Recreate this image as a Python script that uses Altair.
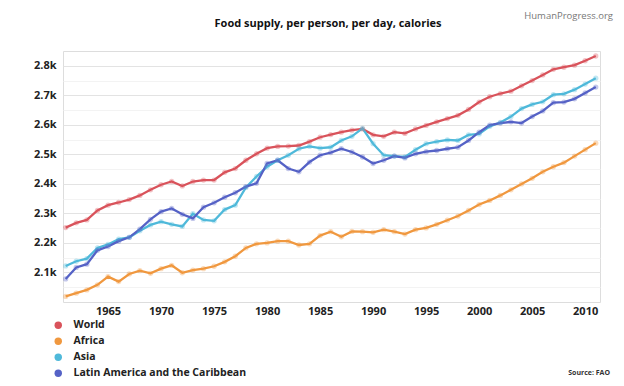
import altair as alt
import pandas as pd

years = list(range(1961, 2012))

world = [2252, 2268, 2278, 2310, 2328, 2337, 2347, 2361, 2380, 2397,
         2408, 2393, 2408, 2413, 2413, 2439, 2452, 2480, 2502, 2521,
         2527, 2528, 2530, 2543, 2558, 2567, 2575, 2582, 2586, 2566,
         2561, 2575, 2571, 2586, 2598, 2610, 2621, 2632, 2652, 2677,
         2695, 2706, 2714, 2732, 2750, 2769, 2788, 2795, 2802, 2817, 2833]

africa = [2019, 2030, 2041, 2058, 2086, 2069, 2095, 2106, 2097, 2113,
          2124, 2099, 2108, 2113, 2121, 2136, 2155, 2183, 2197, 2200,
          2206, 2206, 2193, 2197, 2225, 2238, 2221, 2239, 2238, 2236,
          2245, 2238, 2230, 2245, 2251, 2263, 2277, 2291, 2310, 2330,
          2344, 2361, 2380, 2400, 2419, 2441, 2458, 2472, 2494, 2516, 2538]

asia = [2122, 2138, 2147, 2183, 2195, 2213, 2219, 2241, 2261, 2272,
        2263, 2256, 2299, 2278, 2275, 2313, 2328, 2388, 2425, 2458,
        2480, 2497, 2519, 2527, 2521, 2524, 2547, 2561, 2588, 2536,
        2497, 2494, 2491, 2516, 2536, 2543, 2549, 2547, 2566, 2569,
        2595, 2608, 2628, 2655, 2669, 2678, 2702, 2705, 2719, 2738, 2758]

latam = [2078, 2117, 2128, 2175, 2188, 2206, 2219, 2247, 2280, 2306,
         2317, 2297, 2283, 2321, 2336, 2355, 2370, 2391, 2402, 2469,
         2480, 2452, 2441, 2474, 2497, 2506, 2519, 2508, 2491, 2469,
         2480, 2494, 2488, 2502, 2509, 2513, 2519, 2524, 2547, 2575,
         2599, 2606, 2610, 2606, 2628, 2647, 2675, 2677, 2688, 2708, 2728]

series_names = ["World", "Africa", "Asia", "Latin America and the Caribbean"]
series_colors = ["#d9535b", "#f0983f", "#4fb9da", "#5562c6"]

title_text = "Food supply, per person, per day, calories"
brand_text = "HumanProgress.org"
source_text = "Source: FAO"

rows = []
for name, vals in zip(series_names, [world, africa, asia, latam]):
    for yr, v in zip(years, vals):
        rows.append({"year": yr, "value": v, "series": name})
df = pd.DataFrame(rows)

FONT = "Open Sans"

x = alt.X("year:Q",
          scale=alt.Scale(domain=[1960.75, 2011.4], nice=False, zero=False),
          axis=alt.Axis(title=None, values=list(range(1965, 2011, 5)), format="d",
                        grid=False, ticks=False, domain=False,
                        labelFont=FONT, labelFontWeight="bold", labelFontSize=11,
                        labelColor="#222", labelPadding=3))
y = alt.Y("value:Q",
          scale=alt.Scale(domain=[2000, 2850], nice=False, zero=False),
          axis=alt.Axis(title=None, values=list(range(2050, 2801, 50)),
                        labelExpr="datum.value % 100 == 0 ? format(datum.value, '.2s') : ''",
                        ticks=False, domain=False,
                        gridColor=alt.condition("datum.value % 100 == 0",
                                                alt.value("#e3e3e3"), alt.value("#f3f3f3")),
                        labelFont=FONT, labelFontWeight="bold", labelFontSize=11,
                        labelColor="#222", labelPadding=7))
color_scale = alt.Scale(domain=series_names, range=series_colors)
color = alt.Color("series:N", scale=color_scale,
                  legend=alt.Legend(title=None, orient="none", legendX=-10, legendY=269,
                                    symbolType="circle", symbolSize=55, symbolOpacity=1,
                                    symbolStrokeWidth=0, labelLimit=400,
                                    labelFont=FONT, labelFontWeight="bold", labelFontSize=10.5,
                                    labelColor="#222", labelOffset=10, rowPadding=5))

base = alt.Chart(df)
lines = base.mark_line(strokeWidth=2.3).encode(x=x, y=y, color=color)
points = base.mark_circle(size=28, opacity=0.35).encode(
    x=x, y=y, color=alt.Color("series:N", scale=color_scale, legend=None))

title = alt.Chart(pd.DataFrame({"t": [title_text]})).mark_text(
    align="center", baseline="middle", font=FONT, fontSize=11, fontWeight="bold", color="#111"
).encode(text="t:N", x=alt.value(265), y=alt.value(-27))

brand = alt.Chart(pd.DataFrame({"t": [brand_text]})).mark_text(
    align="right", baseline="middle", font=FONT, fontSize=9.5, color="#777"
).encode(text="t:N", x=alt.value(550), y=alt.value(-35))

source = alt.Chart(pd.DataFrame({"t": [source_text]})).mark_text(
    align="right", baseline="middle", font=FONT, fontSize=7, fontWeight="bold", color="#333"
).encode(text="t:N", x=alt.value(547), y=alt.value(322))

chart = alt.layer(lines, points, title, brand, source).properties(
    width=537, height=251,
    autosize=alt.AutoSizeParams(type="none"),
    padding={"left": 55, "top": 43, "right": 16, "bottom": 76},
).configure_view(stroke=None).configure(background="white")

chart.save("out.html", embed_options={"renderer": "svg", "actions": False})
